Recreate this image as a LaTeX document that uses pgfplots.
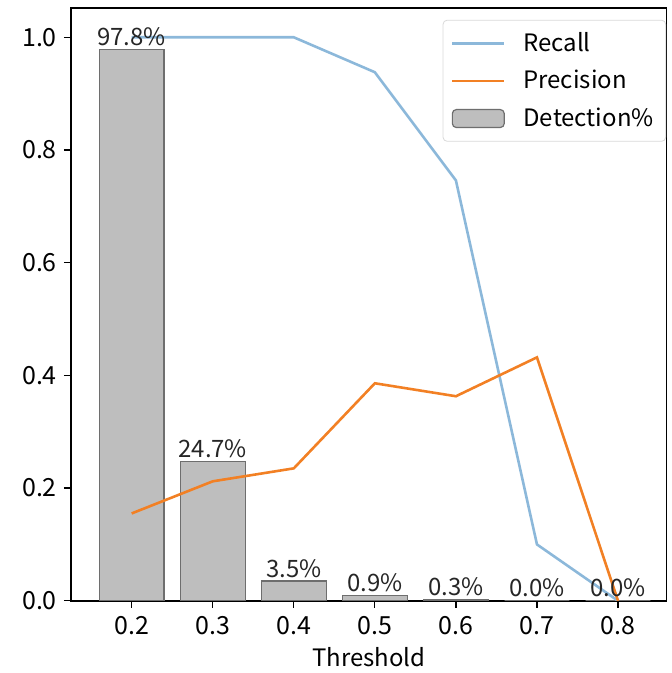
\documentclass[border=0pt]{standalone}
\usepackage{fontspec}
\setmainfont{Noto Sans CJK JP}
\usepackage{pgfplots}
\pgfplotsset{compat=1.18}

\definecolor{recallc}{RGB}{140,184,218}
\definecolor{precc}{RGB}{242,128,36}
\definecolor{barfill}{RGB}{190,190,190}
\definecolor{baredge}{RGB}{110,110,110}

\pgfplotsset{
    lineleg/.style={legend image code/.code={\draw[##1] (0pt,0pt) -- (26pt,0pt);}},
    boxleg/.style={legend image code/.code={\draw[##1] (0pt,-4.5pt) rectangle (26pt,4.5pt);}},
}

\begin{document}
\begin{tikzpicture}
\begin{axis}[
    scale only axis,
    width=298.5pt, height=297pt,
    xmin=0.125, xmax=0.86,
    ymin=0, ymax=1.052,
    axis lines=box,
    xtick={0.2,0.3,0.4,0.5,0.6,0.7,0.8},
    xticklabels={0.2,0.3,0.4,0.5,0.6,0.7,0.8},
    ytick={0,0.2,0.4,0.6,0.8,1.0},
    yticklabels={0.0,0.2,0.4,0.6,0.8,1.0},
    tick pos=left,
    tick align=outside,
    major tick length=3.5pt,
    every tick/.style={black, line width=0.6pt},
    axis line style={draw=black, line width=0.8pt},
    tick label style={font=\fontsize{12.5}{14}\selectfont},
    xticklabel style={yshift=-1pt},
    xlabel={Threshold},
    xlabel style={font=\fontsize{12}{14}\selectfont, yshift=1pt},
    legend style={at={(0.999,0.98)}, anchor=north east, draw=black!15, rounded corners=2pt,
        font=\fontsize{12}{14}\selectfont, row sep=4pt, inner xsep=4pt, inner ysep=4pt,
        /tikz/every odd column/.append style={column sep=7pt}},
    legend cell align=left,
]
% Detection% bars
\addplot[ybar, bar width=0.08, fill=barfill, draw=baredge, line width=0.6pt, forget plot,
    point meta=explicit,
    nodes near coords={\pgfmathprintnumber[fixed,fixed zerofill,precision=1,assume math mode=true]{\pgfplotspointmeta}\%},
    every node near coord/.append style={font=\fontsize{12}{14}\selectfont, text=black!85, inner sep=1.5pt}]
    table[meta=p] {
x   y      p
0.2 0.978  97.8
0.3 0.247  24.7
0.4 0.035  3.5
0.5 0.009  0.9
0.6 0.003  0.3
0.7 0.0    0.0
0.8 0.0    0.0
};
% Recall
\addplot[recallc, line width=1.3pt, lineleg] coordinates {
    (0.2,1.0) (0.3,1.0) (0.4,1.0) (0.5,0.938) (0.6,0.746) (0.7,0.100) (0.8,0.0)
};
\addlegendentry{Recall}
% Precision
\addplot[precc, line width=1.3pt, lineleg] coordinates {
    (0.2,0.155) (0.3,0.212) (0.4,0.235) (0.5,0.386) (0.6,0.363) (0.7,0.432) (0.8,0.0)
};
\addlegendentry{Precision}
\addlegendimage{fill=barfill, draw=baredge, line width=0.6pt, boxleg}
\addlegendentry{Detection\%}
\end{axis}
% page margins as in the reference
\path ([xshift=-35.5pt]current axis.south west) ([xshift=2.5pt,yshift=4pt]current axis.north east);
\end{tikzpicture}
\end{document}
